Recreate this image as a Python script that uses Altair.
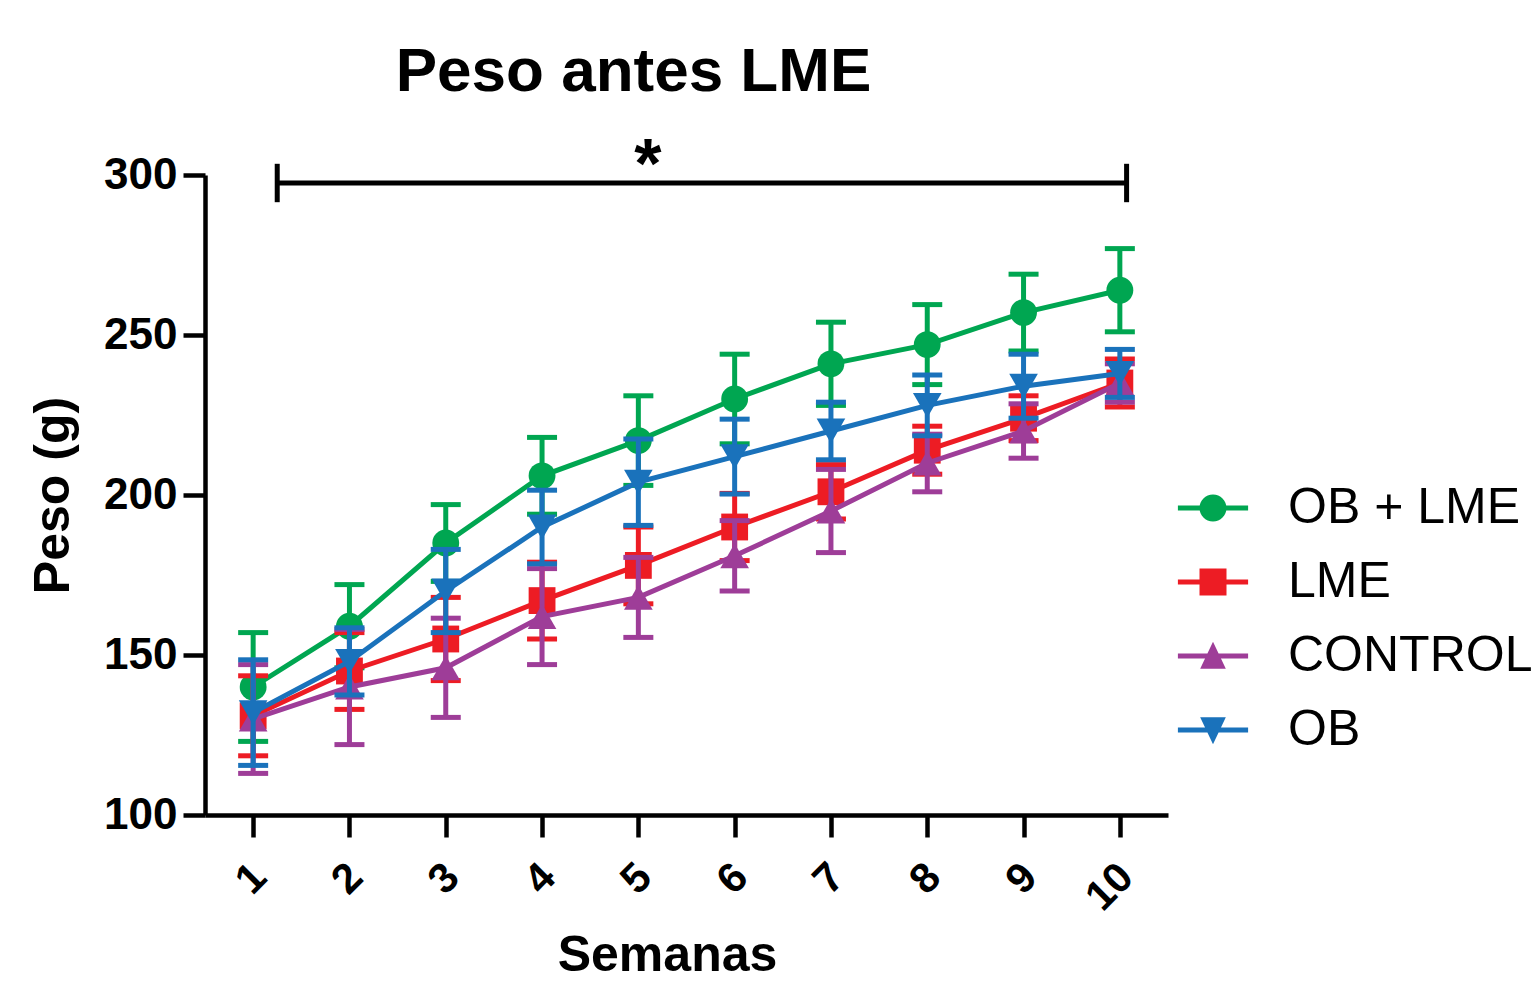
import altair as alt
import pandas as pd

weeks = [1, 2, 3, 4, 5, 6, 7, 8, 9, 10]
groups = ["OB + LME", "LME", "CONTROL", "OB"]
colors = ["#00A651", "#ED1C24", "#9E3D98", "#1A72BB"]
shapes = ["circle", "square", "triangle-up", "triangle-down"]

mean_ob_lme = [140, 159, 185, 206, 217, 230, 241, 247, 257, 264]
sem_ob_lme = [17, 13, 12, 12, 14, 14, 13, 12.5, 12, 13]
mean_lme = [131, 145, 155, 167, 178, 190, 201, 214, 224, 235]
sem_lme = [12.5, 12, 13, 12, 12, 10.5, 8.5, 7.5, 7, 7.5]
mean_control = [130, 140, 146, 162, 168, 181, 195, 210, 220, 235]
sem_control = [17, 18, 15.5, 15, 12.5, 11, 13, 9, 8.5, 6]
mean_ob = [132, 148, 170, 190, 204, 212, 220, 228, 234, 238]
sem_ob = [16.5, 10.5, 13, 11.5, 13.5, 11.7, 9, 9.5, 10, 7.5]

means = [mean_ob_lme, mean_lme, mean_control, mean_ob]
sems = [sem_ob_lme, sem_lme, sem_control, sem_ob]

# significance bracket
bracket_x = [1.25, 10.07]
bracket_y = 297.5
bracket_cap = [291.5, 303.5]
star_x = 5.1
star_y = 296
star_text = "*"

# legend symbols: line + marker as custom paths (all drawn clockwise)
bar = "M-2.6,-0.19 H2.6 V0.19 H-2.6 Z "
legend_paths = [
    bar + "M-1,0 A1,1 0 1,1 1,0 A1,1 0 1,1 -1,0 Z",
    bar + "M-1,-1 H1 V1 H-1 Z",
    bar + "M0,-1.05 L0.95,0.95 L-0.95,0.95 Z",
    bar + "M0,1.05 L-0.95,-0.95 L0.95,-0.95 Z",
]

rows = []
for g, m, s in zip(groups, means, sems):
    for w, mv, sv in zip(weeks, m, s):
        rows.append({"week": w, "group": g, "mean": mv, "lo": mv - sv, "hi": mv + sv})
df = pd.DataFrame(rows)

FONT = "Liberation Sans"

xaxis = alt.Axis(
    values=weeks, format="d", labelAngle=315, labelAlign="right", labelBaseline="middle",
    labelFont=FONT, labelFontSize=42, labelFontWeight="bold", labelColor="black",
    labelPadding=33, labelOffset=6, tickSize=22, tickWidth=4.5, tickColor="black",
    domainWidth=4.5, domainColor="black", grid=False,
    title="Semanas", titleFont=FONT, titleFontSize=50, titleFontWeight="bold",
    titleColor="black", titleX=462, titleY=155, titleBaseline="alphabetic",
    titleAnchor="start", titleAlign="center",
)
yaxis = alt.Axis(
    values=[100, 150, 200, 250, 300], labelFont=FONT, labelFontSize=44,
    labelFontWeight="bold", labelColor="black", labelPadding=6,
    tickSize=22, tickWidth=4.5, tickColor="black",
    domainWidth=4.5, domainColor="black", grid=False,
    title="Peso (g)", titleFont=FONT, titleFontSize=50, titleFontWeight="bold",
    titleColor="black", titleX=-152, titleY=320, titleBaseline="middle",
    titleAlign="center", titleAngle=270,
)

xscale = alt.Scale(domain=[0.5, 10.5], nice=False, zero=False)
yscale = alt.Scale(domain=[100, 300], nice=False, zero=False)


def X(field):
    return alt.X(f"{field}:Q", scale=xscale, axis=xaxis)


def Y(field):
    return alt.Y(f"{field}:Q", scale=yscale, axis=yaxis)


layers = []
for g, c, shp in zip(groups, colors, shapes):
    base = alt.Chart(df).transform_filter(alt.datum.group == g)
    layers.append(base.mark_line(strokeWidth=5, color=c).encode(x=X("week"), y=Y("mean")))
    layers.append(base.mark_rule(strokeWidth=5, color=c).encode(x=X("week"), y=Y("lo"), y2="hi:Q"))
    layers.append(base.mark_tick(orient="horizontal", size=30, thickness=5, color=c, opacity=1).encode(x=X("week"), y=Y("lo")))
    layers.append(base.mark_tick(orient="horizontal", size=30, thickness=5, color=c, opacity=1).encode(x=X("week"), y=Y("hi")))
    layers.append(base.mark_point(filled=True, shape=shp, size=720 if shp in ("circle", "square") else 820,
                                  color=c, opacity=1).encode(x=X("week"), y=Y("mean")))

# legend layer (invisible marks, visible legend)
leg = alt.Legend(
    title=None, orient="none", legendX=983, legendY=308,
    labelFont=FONT, labelFontSize=50, labelColor="black", labelOffset=50,
    symbolSize=729, symbolStrokeWidth=0, rowPadding=24, symbolOpacity=1,
    labelLimit=400,
)
legend_layer = alt.Chart(df).mark_point(filled=True, opacity=0).encode(
    x=X("week"), y=Y("mean"),
    color=alt.Color("group:N", scale=alt.Scale(domain=groups, range=colors), sort=groups, legend=leg),
    shape=alt.Shape("group:N", scale=alt.Scale(domain=groups, range=legend_paths), sort=groups, legend=leg),
)

br_df = pd.DataFrame({"x1": [bracket_x[0]], "x2": [bracket_x[1]], "y": [bracket_y]})
bracket_h = alt.Chart(br_df).mark_rule(strokeWidth=5, color="black").encode(
    x=X("x1"), x2="x2:Q", y=Y("y"))
cap_df = pd.DataFrame({"x": bracket_x, "lo": [bracket_cap[0]] * 2, "hi": [bracket_cap[1]] * 2})
bracket_v = alt.Chart(cap_df).mark_rule(strokeWidth=5, color="black").encode(
    x=X("x"), y=Y("lo"), y2="hi:Q")
star_df = pd.DataFrame({"x": [star_x], "y": [star_y], "t": [star_text]})
star = alt.Chart(star_df).mark_text(font=FONT, fontSize=70, fontWeight="bold", color="black",
                                    baseline="alphabetic", align="center").encode(
    x=X("x"), y=Y("y"), text="t:N")

chart = alt.layer(legend_layer, *layers, bracket_h, bracket_v, star).properties(
    width=963, height=640,
    background="white",
    autosize=alt.AutoSizeParams(type="none"),
    padding={"left": 205, "top": 175, "right": 363, "bottom": 167},
    title=alt.TitleParams("Peso antes LME", font=FONT, fontSize=62, fontWeight="bold",
                          color="black", anchor="middle", dx=-53, offset=28),
).configure_view(stroke=None, strokeWidth=0)

chart.save("out.html", embed_options={"renderer": "svg", "actions": False})
